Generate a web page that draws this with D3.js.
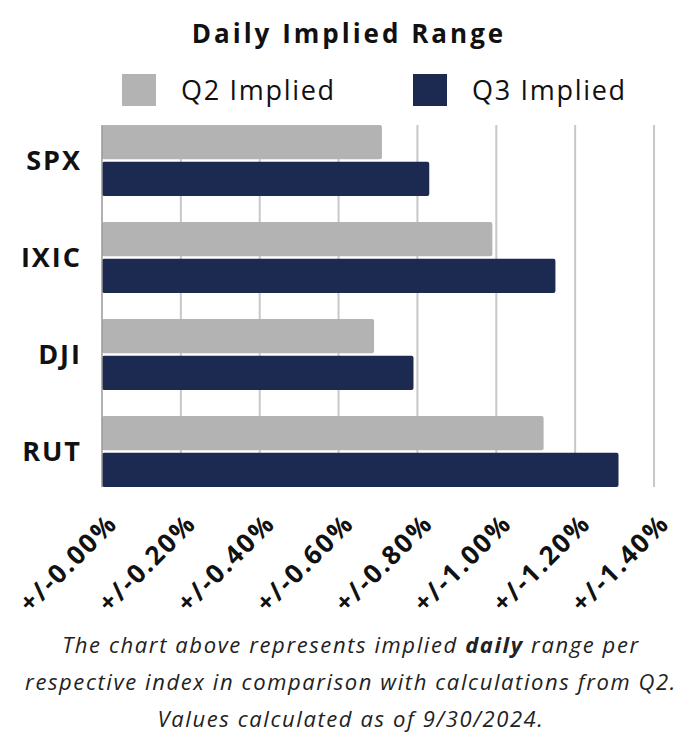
<!DOCTYPE html>
<html lang="en">
<head>
<meta charset="utf-8">
<title>Daily Implied Range</title>
<script src="https://cdn.jsdelivr.net/npm/d3@7"></script>
<style>
  body { margin: 0; background: #fff; }
  text { font-family: "Open Sans", sans-serif; }
</style>
</head>
<body>
<script>
var w = 700, h = 741;

var indices = ["SPX", "IXIC", "DJI", "RUT"];
var seriesNames = ["Q2 Implied", "Q3 Implied"];
var q2Values = [0.71, 0.99, 0.69, 1.12];
var q3Values = [0.83, 1.15, 0.79, 1.31];
var tickValues = [0, 0.2, 0.4, 0.6, 0.8, 1.0, 1.2, 1.4];
var tickLabels = ["+/-0.00%", "+/-0.20%", "+/-0.40%", "+/-0.60%", "+/-0.80%", "+/-1.00%", "+/-1.20%", "+/-1.40%"];
var colors = ["#b3b3b3", "#1c2951"];
var notes = [
  ["The chart above represents implied ", "daily", " range per"],
  ["respective index in comparison with calculations from Q2."],
  ["Values calculated as of 9/30/2024."]
];

var svg = d3.select("body").append("svg")
  .attr("width", w)
  .attr("height", h);

var x = d3.scaleLinear().domain([0, 1.4]).range([102, 654]);
var y = d3.scaleBand().domain(indices).range([112, 500])
  .paddingInner(0.268).paddingOuter(0.134);
var ySub = d3.scaleBand().domain(seriesNames).range([0, y.bandwidth()]).paddingInner(0.07);

var plotTop = y(indices[0]),
    plotBottom = y(indices[indices.length - 1]) + y.bandwidth();

// title
svg.append("text")
  .attr("x", 349).attr("y", 43)
  .attr("text-anchor", "middle")
  .attr("font-size", "26px").attr("font-weight", "bold")
  .attr("letter-spacing", "3px")
  .attr("fill", "#111")
  .text("Daily Implied Range");

// legend
var legendX = [122, 413];
var leg = svg.selectAll(".leg").data(seriesNames).enter().append("g")
  .attr("transform", function(d, i) { return "translate(" + legendX[i] + ",74)"; });
leg.append("rect").attr("width", 34).attr("height", 32)
  .attr("fill", function(d, i) { return colors[i]; });
leg.append("text").attr("x", 59).attr("y", 26)
  .attr("font-size", "27px").attr("letter-spacing", "1.7px").attr("fill", "#111")
  .text(function(d) { return d; });

// gridlines
svg.selectAll(".grid").data(tickValues.slice(1)).enter().append("line")
  .attr("x1", function(d) { return x(d); }).attr("x2", function(d) { return x(d); })
  .attr("y1", plotTop).attr("y2", plotBottom)
  .attr("stroke", "#c8c8c8").attr("stroke-width", 2);

// bars
var rows = indices.map(function(k, i) { return { key: k, vals: [q2Values[i], q3Values[i]] }; });
var g = svg.selectAll(".row").data(rows).enter().append("g")
  .attr("transform", function(d) { return "translate(0," + y(d.key) + ")"; });
g.selectAll("rect").data(function(d) { return d.vals; }).enter().append("rect")
  .attr("x", x(0))
  .attr("y", function(d, i) { return ySub(seriesNames[i]); })
  .attr("width", function(d) { return x(d) - x(0); })
  .attr("height", ySub.bandwidth())
  .attr("rx", 2)
  .attr("fill", function(d, i) { return colors[i]; });

// left axis line
svg.append("line")
  .attr("x1", x(0)).attr("x2", x(0)).attr("y1", plotTop).attr("y2", plotBottom)
  .attr("stroke", "#999").attr("stroke-width", 1.5);

// category labels
svg.selectAll(".cat").data(indices).enter().append("text")
  .attr("x", 82)
  .attr("y", function(d) { return y(d) + y.bandwidth() / 2; })
  .attr("dy", "0.36em")
  .attr("text-anchor", "end")
  .attr("font-size", "27px").attr("font-weight", "bold")
  .attr("letter-spacing", "2px").attr("fill", "#111")
  .text(function(d) { return d; });

// x tick labels
svg.selectAll(".tick").data(tickValues).enter().append("text")
  .attr("transform", function(d) { return "translate(" + (x(d) + 17) + ",525) rotate(-45)"; })
  .attr("text-anchor", "end")
  .attr("font-size", "26px").attr("font-weight", "bold")
  .attr("letter-spacing", "2px").attr("fill", "#111")
  .text(function(d, i) { return tickLabels[i]; });

// footnote
var note = svg.append("text")
  .attr("text-anchor", "middle")
  .attr("font-size", "22px").attr("font-style", "italic")
  .attr("letter-spacing", "1.6px").attr("fill", "#222");
notes.forEach(function(line, li) {
  line.forEach(function(part, pi) {
    var t = note.append("tspan").text(part);
    if (pi === 0) t.attr("x", 351).attr("y", 653 + li * 37);
    if (part === "daily") t.attr("font-weight", "bold");
  });
});
</script>
</body>
</html>
